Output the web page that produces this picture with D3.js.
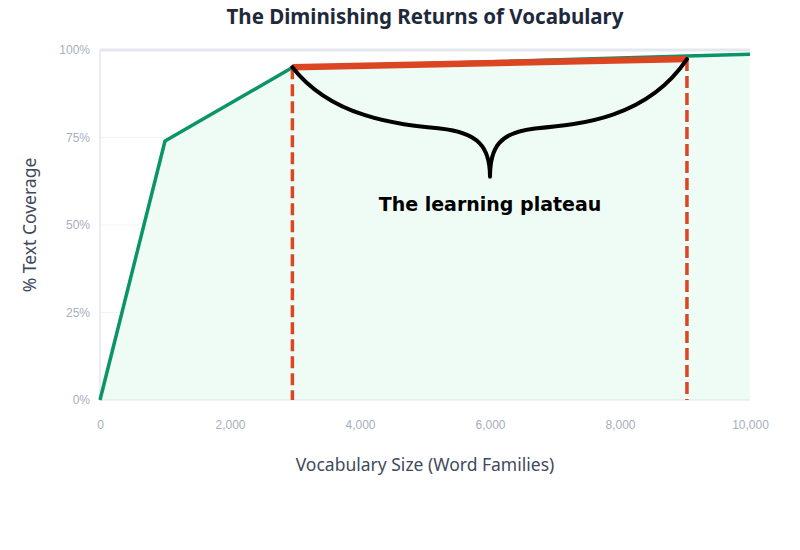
<!doctype html>
<html>
<head>
<meta charset="utf-8">
<script src="https://cdn.jsdelivr.net/npm/d3@7"></script>
<style>
  body { margin: 0; background: #fff; }
  svg { font-family: "Noto Sans", sans-serif; display: block; }
</style>
</head>
<body>
<script>
// Coverage curve.
const vocab = [0, 1000, 2960, 9030, 10000];
const coverage = [0, 74, 95, 98.3, 98.8];

// Plateau annotation.
const plateauX = [2960, 9030];
const plateauY = [95.1, 97.4];
const braceTip = [6000, 63.8];
const plateauLabel = "The learning plateau";

const xTicks = [0, 2000, 4000, 6000, 8000, 10000];
const yTicks = [0, 25, 50, 75, 100];

const width = 800;
const height = 550;
const marginTop = 50;
const marginRight = 50;
const marginBottom = 150;
const marginLeft = 100;

const x = d3.scaleLinear([0, 10000], [marginLeft, width - marginRight]);
const y = d3.scaleLinear([0, 100], [height - marginBottom, marginTop]);

const svg = d3.select("body").append("svg")
    .attr("width", width)
    .attr("height", height)
    .attr("viewBox", [0, 0, width, height]);

const data = vocab.map((v, i) => [v, coverage[i]]);

// Gridlines.
svg.append("g")
    .attr("stroke", "#eef2f6")
    .attr("stroke-width", 1)
  .selectAll("line")
  .data(yTicks.filter(d => d > 0 && d < 100))
  .join("line")
    .attr("x1", x(0))
    .attr("x2", x(10000))
    .attr("y1", d => y(d))
    .attr("y2", d => y(d));

// Area under the curve.
svg.append("path")
    .attr("fill", "#effcf5")
    .attr("d", d3.area().x(d => x(d[0])).y0(y(0)).y1(d => y(d[1]))(data));

// Top and left frame, bottom baseline.
svg.append("line")
    .attr("x1", x(0)).attr("x2", x(10000))
    .attr("y1", y(100)).attr("y2", y(100))
    .attr("stroke", "#e3e8ef").attr("stroke-width", 3);
svg.append("line")
    .attr("x1", x(0)).attr("x2", x(0))
    .attr("y1", y(100)).attr("y2", y(0))
    .attr("stroke", "#e3e8ef").attr("stroke-width", 1.5);
svg.append("line")
    .attr("x1", x(0)).attr("x2", x(10000))
    .attr("y1", y(0)).attr("y2", y(0))
    .attr("stroke", "#dde4ee").attr("stroke-width", 1);

// Axes tick labels.
svg.append("g")
    .attr("transform", `translate(0,${y(0)})`)
    .call(d3.axisBottom(x).tickValues(xTicks).tickSize(0).tickPadding(20).tickFormat(d3.format(",")))
    .call(g => g.select(".domain").remove())
    .call(g => g.selectAll("text").attr("fill", "#a6afbd").attr("font-size", 12));

svg.append("g")
    .attr("transform", `translate(${x(0)},0)`)
    .call(d3.axisLeft(y).tickValues(yTicks).tickSize(0).tickPadding(10).tickFormat(d => d + "%"))
    .call(g => g.select(".domain").remove())
    .call(g => g.selectAll("text").attr("fill", "#a6afbd").attr("font-size", 12));

// Coverage line.
svg.append("path")
    .attr("fill", "none")
    .attr("stroke", "#0b9468")
    .attr("stroke-width", 3.5)
    .attr("stroke-linejoin", "round")
    .attr("d", d3.line().x(d => x(d[0])).y(d => y(d[1]))(data));

// Plateau markers.
svg.append("g")
    .attr("stroke", "#dc4521")
    .attr("stroke-width", 3.5)
    .attr("stroke-dasharray", "12,5")
  .selectAll("line")
  .data(plateauX)
  .join("line")
    .attr("x1", d => x(d))
    .attr("x2", d => x(d))
    .attr("y1", (d, i) => y(plateauY[i]))
    .attr("y2", y(0));

svg.append("line")
    .attr("x1", x(plateauX[0])).attr("y1", y(plateauY[0]))
    .attr("x2", x(plateauX[1])).attr("y2", y(plateauY[1]))
    .attr("stroke", "#dc4521")
    .attr("stroke-width", 6.5);

// Curly brace under the plateau.
const bx0 = x(plateauX[0]), by0 = y(plateauY[0]);
const bx1 = x(plateauX[1]), by1 = y(plateauY[1]);
const tx = x(braceTip[0]), ty = y(braceTip[1]);
const sy = by0 + (ty - by0) * 0.56;
const brace = d3.path();
brace.moveTo(bx0, by0);
brace.bezierCurveTo(bx0 + 40, sy - 10, tx - 90, sy - 4, tx - 50, sy);
brace.bezierCurveTo(tx - 12, sy + 4, tx, ty - 30, tx, ty);
brace.moveTo(bx1, by1);
brace.bezierCurveTo(bx1 - 40, sy - 10, tx + 90, sy - 4, tx + 45, sy);
brace.bezierCurveTo(tx + 10, sy + 4, tx, ty - 30, tx, ty);
svg.append("path")
    .attr("fill", "none")
    .attr("stroke", "#000")
    .attr("stroke-width", 4)
    .attr("stroke-linecap", "round")
    .attr("d", brace.toString());

svg.append("text")
    .attr("x", tx)
    .attr("y", ty + 34)
    .attr("text-anchor", "middle")
    .attr("font-family", "'DejaVu Sans', sans-serif")
    .attr("font-weight", "bold")
    .attr("font-size", 19)
    .attr("fill", "#000")
    .text(plateauLabel);

// Titles.
svg.append("text")
    .attr("x", (x(0) + x(10000)) / 2)
    .attr("y", 24)
    .attr("text-anchor", "middle")
    .attr("font-weight", "bold")
    .attr("font-size", 20.5)
    .attr("fill", "#1e293b")
    .text("The Diminishing Returns of Vocabulary");

svg.append("text")
    .attr("x", (x(0) + x(10000)) / 2)
    .attr("y", 471)
    .attr("text-anchor", "middle")
    .attr("font-size", 17.5)
    .attr("fill", "#3f4a5c")
    .text("Vocabulary Size (Word Families)");

svg.append("text")
    .attr("transform", `translate(36,${(y(0) + y(100)) / 2}) rotate(-90)`)
    .attr("text-anchor", "middle")
    .attr("font-size", 17.5)
    .attr("fill", "#3f4a5c")
    .text("% Text Coverage");
</script>
</body>
</html>
